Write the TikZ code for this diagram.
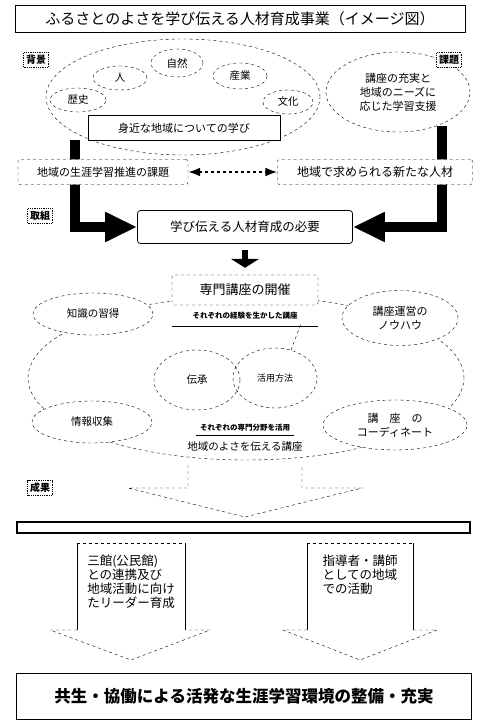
\documentclass[tikz,border=0pt]{standalone}
\usepackage{fontspec}
\setmainfont{Noto Sans CJK JP}
\usetikzlibrary{shapes.geometric,arrows.meta,positioning}
\pgfdeclarelayer{back}
\pgfsetlayers{back,main}
\newcommand{\fsz}[2]{\fontsize{#1}{#2}\selectfont}

\tikzset{
  ov/.style={draw, dashed, ellipse, fill=white, inner sep=1pt, align=center, font=\fsz{10.5}{13}},
  dbox/.style={draw, dashed, rounded corners=2pt, fill=white, font=\fsz{11}{13}},
  tag/.style={draw, densely dotted, line width=0.8pt, fill=white, inner sep=2.5pt, font=\bfseries\fsz{10}{11}},
  fat/.style={line width=10pt, -{Triangle[length=32pt,width=28pt]}},
  note/.style={align=left, font=\fsz{12.5}{14}},
}

\begin{document}
\begin{tikzpicture}[x=1pt,y=-1pt]
        \useasboundingbox (0,0) rectangle (481,722);

        %% Title
        \node[draw, line width=0.9pt, minimum width=450, minimum height=27, font=\fsz{15}{17}] (title) at (240,19)
            {ふるさとのよさを学び伝える人材育成事業（イメージ図）};

        % Background
        \node[ov, minimum width=274, minimum height=116] (topell) at (183,97) {};
        \node[ov, minimum width=56, minimum height=24] (hist) at (78,100) {歴史};
        \node[ov, minimum width=54, minimum height=24] (people) at (120,78) {人};
        \node[ov, minimum width=52, minimum height=28] (nature) at (177,63) {自然};
        \node[ov, minimum width=54, minimum height=26] (ind) at (240,76) {産業};
        \node[ov, minimum width=50, minimum height=24] (cult) at (288,102) {文化};
        \node[draw, fill=white, line width=0.8pt, minimum width=192, minimum height=25, font=\fsz{11}{13}] (learn) at (184,128)
            {身近な地域についての学び};
        \node[ov, minimum width=144, minimum height=80, font=\fsz{11}{14}] (needs) at (398,92)
            {講座の充実と\\地域のニーズに\\応じた学習支援};
        \node[tag] (bg) at (36,60) {背景};
        \node[tag] (issue) at (449,60) {課題};

        % Issues
        \node[dbox, minimum width=170, minimum height=25] (lbox) at (103,172) {地域の生涯学習推進の課題};
        \node[dbox, minimum width=195, minimum height=25, font=\fsz{12}{14}] (rbox) at (375,172) {地域で求められる新たな人材};
        \draw[dashed, line width=2pt, {Latex}-{Latex}] (lbox) -- (rbox);

        \node[tag] (plan) at (40,216) {取組};
        \node[draw, rounded corners=3pt, fill=white, line width=0.8pt, minimum width=215, minimum height=33,
              font=\fsz{12.5}{14}] (need) at (245,227) {学び伝える人材育成の必要};

        \coordinate (ltop) at (75,140);
        \coordinate (rtop) at (442,126);
        \begin{pgfonlayer}{back}
            \draw[fat] (ltop) |- (need.west);
            \draw[fat] (rtop) |- (need.east);
        \end{pgfonlayer}

        % Lectures
        \node[draw, dashed, ellipse, minimum width=436, minimum height=164] (ring) at (246,378) {};
        \node[dbox, minimum width=146, minimum height=30, font=\fsz{13}{15}] (lecture) at (245,290) {専門講座の開催};
        \draw[line width=6pt, shorten <=6pt, shorten >=7pt, -{Triangle[length=9pt,width=28pt]}] (need.south) -- (lecture.north);
        \node[font=\bfseries\fsz{7.5}{9}] (skill) at (245,316) {それぞれの経験を生かした講座};
        \draw ([yshift=-3pt]skill.south -| lecture.west) -- ([yshift=-3pt]skill.south -| lecture.east);

        \node[ov, minimum width=120, minimum height=42] (know) at (93,314) {知識の習得};
        \node[ov, minimum width=116, minimum height=55, font=\fsz{11}{14}] (howto) at (400,318) {講座運営の\\ノウハウ};
        \node[ov, fill=none, minimum width=86, minimum height=60] (tradi) at (197,380) {伝承};
        \node[ov, fill=none, minimum width=84, minimum height=60, font=\fsz{9}{11}] (use) at (275,378) {活用方法};
        \draw[dashed] (use.60) -- (skill.south east);
        \node[ov, minimum width=120, minimum height=42] (info) at (92,422) {情報収集};
        \node[ov, minimum width=144, minimum height=50, font=\fsz{11}{14}] (coord) at (395,425) {講　座　の\\コーディネート};
        \node[font=\bfseries\fsz{7.5}{9}] (field) at (245,428) {それぞれの専門分野を活用};
        \node[font=\fsz{10.5}{12}] (local) at (245,447) {地域のよさを伝える講座};
        \draw (field.south west) -- (field.south east);

        % Results
        \node[tag] (result) at (40,488) {成果};
        \draw[dashed] (188,465) -- (188,488) -- (128,488) -- (245,517) -- (362,488) -- (302,488) -- (302,465);
        \node[draw, line width=1.2pt, inner sep=0, minimum width=453, minimum height=11] (bar) at (243.5,527.5) {};

        \draw[dashed] (77,543) -- (185,543);
        \draw (77,543) -- (77,630) (185,543) -- (185,630);
        \draw[dashed] (77,630) -- (50,630) -- (131,660) -- (210,630) -- (185,630);
        \node[note] (lnote) at (131,582) {三館(公民館)\\との連携及び\\地域活動に向け\\たリーダー育成};

        \draw[dashed] (307,543) -- (413,543);
        \draw (307,543) -- (307,630) (413,543) -- (413,630);
        \draw[dashed] (307,630) -- (283,630) -- (360,660) -- (437,630) -- (413,630);
        \node[note] (rnote) at (360,575) {指導者・講師\\としての地域\\での活動};

        \node[draw, line width=0.9pt, minimum width=455, minimum height=46, font=\bfseries\fsz{16.5}{18}] (goal) at (244,696)
            {共生・協働による活発な生涯学習環境の整備・充実};
\end{tikzpicture}
\end{document}
